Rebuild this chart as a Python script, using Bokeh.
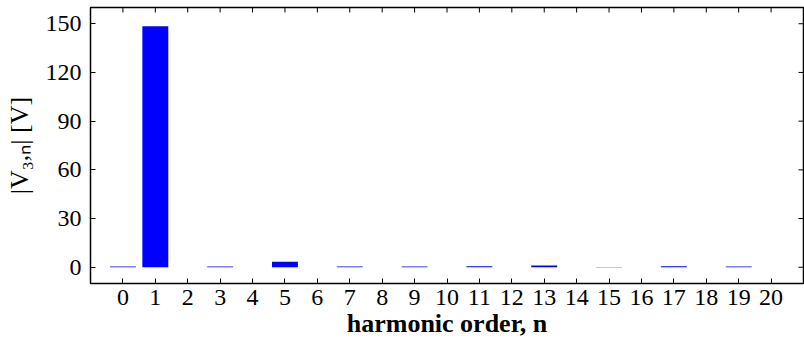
import math
from bokeh.plotting import figure
from bokeh.models import FixedTicker, Range1d
from bokeh.embed import file_html
from bokeh.resources import INLINE

harmonics = list(range(21))
magnitudes = [0.4, 148.4, 0, 0.4, 0, 3.4, 0, 0.4, 0, 0.4, 0,
              0.7, 0, 1.1, 0, 0.2, 0, 0.7, 0, 0.45, 0]
x_ticks = list(range(21))
y_ticks = [0, 30, 60, 90, 120, 150]
x_label = "harmonic order, n"
y_label = "|V₃,ₙ| [V]"

X_MIN, X_MAX = -1, 21
Y_MIN, Y_MAX = -10, 160
FONT = "Liberation Serif"
TICK_LEN = 5

p = figure(width=804, height=340,
           x_range=Range1d(X_MIN, X_MAX), y_range=Range1d(Y_MIN, Y_MAX),
           output_backend="svg", toolbar_location=None,
           min_border_left=90, min_border_right=1,
           min_border_top=7, min_border_bottom=56)

p.vbar(x=harmonics, top=magnitudes, bottom=0, width=0.8,
       fill_color="#0000ff", line_color=None)

# inward ticks on the top and right spines (matplotlib classic look)
p.ray(x=x_ticks, y=[Y_MAX] * len(x_ticks), length=TICK_LEN,
      length_units="screen", angle=-math.pi / 2,
      line_color="black", line_width=1)
p.ray(x=[X_MAX] * len(y_ticks), y=y_ticks, length=TICK_LEN,
      length_units="screen", angle=math.pi,
      line_color="black", line_width=1)

p.grid.visible = False
p.outline_line_color = "black"
p.outline_line_width = 1.5

def style(ax, ticks):
    ax.ticker = FixedTicker(ticks=ticks)
    ax.axis_line_color = None
    ax.major_tick_in = TICK_LEN
    ax.major_tick_out = 0
    ax.minor_tick_in = 0
    ax.minor_tick_out = 0
    ax.major_tick_line_color = "black"
    ax.major_tick_line_width = 1
    ax.major_label_text_font = FONT
    ax.major_label_text_color = "black"
    ax.major_label_text_font_size = "24px"

xb = p.xaxis[0]
style(xb, x_ticks)
xb.major_label_standoff = 6
xb.axis_label = x_label
xb.axis_label_text_font = FONT
xb.axis_label_text_font_style = "bold"
xb.axis_label_text_font_size = "26px"
xb.axis_label_text_color = "black"
xb.axis_label_standoff = 1

yl = p.yaxis[0]
style(yl, y_ticks)
yl.major_label_standoff = 9
yl.axis_label = y_label
yl.axis_label_text_font = FONT
yl.axis_label_text_font_style = "normal"
yl.axis_label_text_font_size = "26px"
yl.axis_label_text_color = "black"
yl.axis_label_standoff = 9

open("out.html", "w").write(file_html(p, INLINE))
